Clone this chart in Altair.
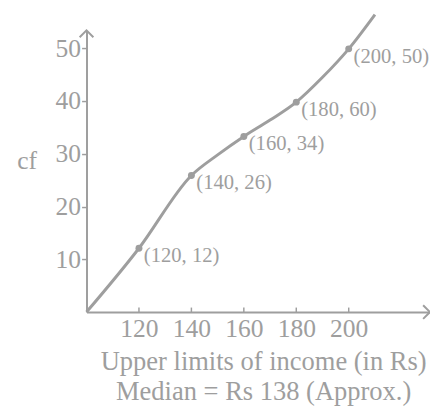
import altair as alt
import pandas as pd

# Ogive curve
curve_x = [100, 120, 140, 150, 160, 170, 180, 190, 200, 210.0]
curve_y = [0, 12.1, 25.9, 29.8, 33.3, 36.4, 39.8, 44.5, 49.9, 56.4]

# Marked points and their labels
pt_x = [120, 140, 160, 180, 200]
pt_y = [12.1, 25.9, 33.3, 39.8, 49.9]
pt_labels = ["(120, 12)", "(140, 26)", "(160, 34)", "(180, 60)", "(200, 50)"]

x_ticks = [120, 140, 160, 180, 200]
y_ticks = [10, 20, 30, 40, 50]

X_MAX = 231
Y_MAX = 53.4
GRAY = "#9e9e9e"
FONT = "Liberation Serif"

curve = pd.DataFrame({"x": curve_x, "y": curve_y})
pts = pd.DataFrame({"x": pt_x, "y": pt_y, "label": pt_labels})

xs = alt.Scale(domain=[100, X_MAX], nice=False, zero=False)
ys = alt.Scale(domain=[0, Y_MAX], nice=False)

base_line = alt.Chart(curve).mark_line(
    color=GRAY, strokeWidth=3, interpolate="monotone", clip=False
).encode(
    x=alt.X("x:Q", scale=xs, axis=alt.Axis(
        values=x_ticks, ticks=False, grid=False, domain=True,
        domainColor=GRAY, domainWidth=2, labelColor=GRAY,
        labelFont=FONT, labelFontSize=26, labelPadding=4,
        title=["Upper limits of income (in Rs)", "Median = Rs 138 (Approx.)"],
        titleFont=FONT, titleFontSize=27, titleFontWeight="normal",
        titleColor=GRAY, titleLineHeight=30, titlePadding=8,
        titleX=180, titleAlign="center",
    )),
    y=alt.Y("y:Q", scale=ys, axis=alt.Axis(
        values=y_ticks, ticks=True, tickSize=5, tickColor=GRAY, tickWidth=1.5,
        grid=False, domain=True, domainColor=GRAY, domainWidth=2,
        labelColor=GRAY, labelFont=FONT, labelFontSize=26, labelPadding=1,
        title="cf", titleAngle=0, titleFont=FONT, titleFontSize=26,
        titleFontWeight="normal", titleColor=GRAY, titleX=-61, titleY=133,
        titleAlign="center", titleBaseline="middle",
    )),
)

dots = alt.Chart(pts).mark_circle(color=GRAY, size=50, opacity=1).encode(
    x=alt.X("x:Q", scale=xs), y=alt.Y("y:Q", scale=ys)
)

labels = alt.Chart(pts).mark_text(
    color=GRAY, font=FONT, fontSize=21, align="left", baseline="middle",
    dx=5, dy=8
).encode(x=alt.X("x:Q", scale=xs), y=alt.Y("y:Q", scale=ys), text="label:N")

xt = pd.DataFrame({"x": x_ticks})
x_tick_marks = alt.Chart(xt).mark_rule(color=GRAY, strokeWidth=1.5).encode(
    x=alt.X("x:Q", scale=xs), y=alt.datum(0, scale=ys), y2=alt.datum(0.85)
)

arrows = pd.DataFrame({"x": [X_MAX, 100], "y": [0, Y_MAX], "a": [0, 270]})
arrow_marks = alt.Chart(arrows).mark_point(
    shape="M -1 -1 L 0 0 L -1 1", filled=False, color=GRAY, strokeWidth=2,
    size=196, opacity=1, clip=False
).encode(
    x=alt.X("x:Q", scale=xs), y=alt.Y("y:Q", scale=ys),
    angle=alt.Angle("a:Q", scale=None)
)

chart = alt.layer(base_line, x_tick_marks, dots, labels, arrow_marks).properties(
    width=350, height=287,
    autosize=alt.AutoSizeParams(type="none"),
    padding={"left": 80, "top": 19, "right": 0, "bottom": 97},
).configure_view(stroke=None)

chart.save("out.html", embed_options={"renderer": "svg", "actions": False})
